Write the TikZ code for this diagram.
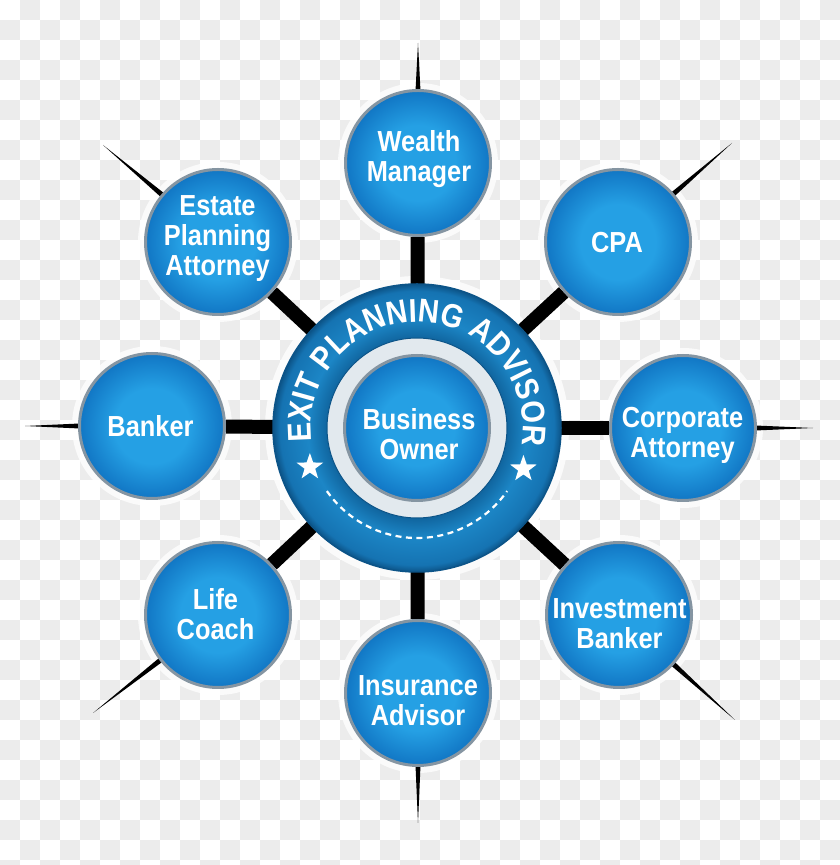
\documentclass[tikz,border=0pt]{standalone}
\usepackage{fontspec}
\newfontfamily\labfont{Liberation Sans}[FakeStretch=0.875]
\newfontfamily\ringfont{Liberation Sans}[FakeStretch=0.88]
\usetikzlibrary{shapes.geometric,decorations.text,calc}
\definecolor{chk}{HTML}{ECECEC}
\definecolor{bluein}{HTML}{25A0E4}
\definecolor{blueout}{HTML}{1176C4}
\definecolor{ringA}{HTML}{10659F}
\definecolor{ringB}{HTML}{1C86C6}
\definecolor{ringD}{HTML}{1573B2}
\definecolor{ringC}{HTML}{0C5488}
\definecolor{rim}{HTML}{8595A2}
\definecolor{gapc}{HTML}{E2E9EE}
\pgfdeclareradialshading{satblue}{\pgfpoint{0bp}{0bp}}{color(0bp)=(bluein); color(13bp)=(bluein); color(25bp)=(blueout); color(50bp)=(blueout)}
\pgfdeclareradialshading{ringblue}{\pgfpoint{0bp}{0bp}}{color(0bp)=(ringA); color(15.6bp)=(ringA); color(19bp)=(ringB); color(23.8bp)=(ringD); color(25bp)=(ringC); color(50bp)=(ringC)}
\pgfdeclarelayer{bg}
\pgfdeclarelayer{mid}
\pgfsetlayers{bg,mid,main}
\begin{document}
\begin{tikzpicture}[x=1pt,y=1pt,
  sat/.style={circle, minimum size=145pt, inner sep=0pt, shading=satblue, draw=rim, line width=3pt},
  ringsh/.style={circle, minimum size=288pt, inner sep=0pt, shading=ringblue, draw=ringC, line width=1.5pt},
  gapsh/.style={circle, minimum size=180pt, inner sep=0pt, fill=gapc, draw=ringC, line width=1pt},
  halo/.style={fill=white, fill opacity=0.75},
  lab/.style={text=white, font=\labfont\bfseries\fontsize{29}{30}\selectfont, align=center, inner sep=0pt, anchor=north},
  bar/.style={line width=14pt, black},
  spike/.style={fill=black},
  starsh/.style={star, star points=5, star point ratio=2.5, fill=white, minimum size=28pt, inner sep=0pt},
  dashline/.style={white, line width=2.2pt, dash pattern=on 6pt off 4.5pt}
]
\useasboundingbox (0,0) rectangle (840,865);

% centre badge
\node[ringsh] (ring) at (417,437) {};
\node[gapsh] (gap) at (ring.center) {};
\node[sat] (bo) at (ring.center) {};
\node[lab] (t0) at (419,457) {Business\\Owner};

% satellites
\node[sat] (s1) at (418,702) {};
\node[sat] (s2) at (618,623) {};
\node[sat] (s3) at (683,437) {};
\node[sat] (s4) at (619,250) {};
\node[sat] (s5) at (418,172) {};
\node[sat] (s6) at (218,250) {};
\node[sat] (s7) at (152,439) {};
\node[sat] (s8) at (218,623) {};

\node[lab] (t1) at (419,735) {Wealth\\Manager};
\node[lab] (t2) at (617,633) {CPA};
\node[lab] (t3) at (682.5,458) {Corporate\\Attorney};
\node[lab] (t4) at (619.5,267) {Investment\\Banker};
\node[lab] (t5) at (418,190) {Insurance\\Advisor};
\node[lab] (t6) at (215.5,277) {Life\\Coach};
\node[lab] (t7) at (150.5,450) {Banker};
\node[lab] (t8) at (217.5,670) {Estate\\Planning\\Attorney};

% spike tips
\coordinate (p1) at (418,822);
\coordinate (p2) at (732,722);
\coordinate (p3) at (813,437);
\coordinate (p4) at (735,145);
\coordinate (p5) at (418,42);
\coordinate (p6) at (93,152);
\coordinate (p7) at (25,439);
\coordinate (p8) at (103,720);

% ring text, stars, dashes
\path[decorate, decoration={text along path, text align=center,
  text={|\color{white}\ringfont\bfseries\fontsize{33}{33}\selectfont|EXIT PLANNING ADVISOR}}]
  ($(ring.center)+(187:106)$) arc[start angle=187, end angle=-9, radius=106];
\node[starsh] (st1) at ($(ring.center)+(200:114)$) {};
\node[starsh] (st2) at ($(ring.center)+(-21:114)$) {};
\draw[dashline] ($(ring.center)+(-145:110)$) arc[start angle=-145, end angle=-35, radius=110];

\begin{pgfonlayer}{bg}
  \begin{scope}
    \clip (0,0) rectangle (840,865);
    \foreach \i in {0,...,41}{
      \foreach \j in {0,...,43}{
        \pgfmathtruncatemacro\pk{\i+\j}
        \ifodd\pk \fill[chk] ({20*\i},{865-20*\j}) rectangle ++(20,-20);\fi
      }
    }
  \end{scope}
  \fill[halo] (ring.center) circle[radius=152];
  \foreach \k in {1,...,8}{ \fill[halo] (s\k) circle[radius=80]; }
\end{pgfonlayer}

\begin{pgfonlayer}{mid}
  \foreach \k in {1,...,8}{
    \draw[bar] (bo) -- (s\k);
    \coordinate (e\k) at ($(s\k)!70pt!(p\k)$);
    \fill[spike] ($(e\k)!2.6pt!90:(p\k)$) -- (p\k) -- ($(e\k)!2.6pt!-90:(p\k)$) -- cycle;
  }
\end{pgfonlayer}
\end{tikzpicture}
\end{document}
